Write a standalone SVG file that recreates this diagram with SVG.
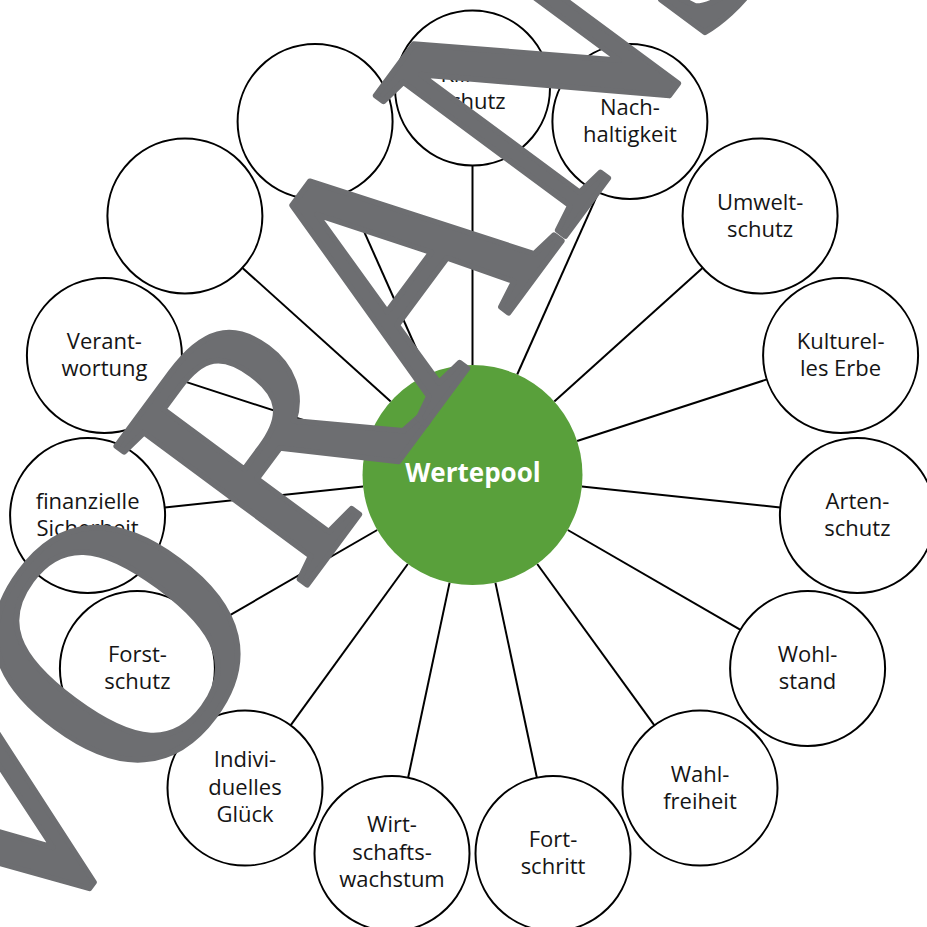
<svg xmlns="http://www.w3.org/2000/svg" width="927" height="927" viewBox="0 0 927 927">
  <style>
    .bubble circle { fill: #ffffff; stroke: #000000; stroke-width: 2; }
    .bubble text { font-family: "Open Sans", "Liberation Sans", sans-serif; font-size: 22px; fill: #151515; text-anchor: middle; }
    .connectors line { stroke: #000000; stroke-width: 2; }
    .hub circle { fill: #59a03b; }
    .hub text { font-family: "Open Sans", "Liberation Sans", sans-serif; font-size: 26px; font-weight: 700; fill: #ffffff; text-anchor: middle; }
    .stamp { font-family: "Liberation Serif", "Times New Roman", serif; font-size: 360px; fill: #6d6e71; stroke: #6d6e71; stroke-width: 6; stroke-linejoin: round; }
  </style>

  <rect width="927" height="927" fill="#ffffff"/>

  <!-- spokes from the hub to the 15 value bubbles (ring radius 387, 24 deg apart) -->
  <g id="connectors" class="connectors">
    <line x1="472.5" y1="365" x2="472.5" y2="165.5"/>
    <line x1="517.2" y1="374.5" x2="598.4" y2="192.3"/>
    <line x1="554.3" y1="401.4" x2="702.5" y2="267.9"/>
    <line x1="577.1" y1="441.0" x2="766.9" y2="379.4"/>
    <line x1="581.9" y1="486.5" x2="780.3" y2="507.4"/>
    <line x1="567.8" y1="530.0" x2="740.5" y2="629.8"/>
    <line x1="537.2" y1="564.0" x2="654.4" y2="725.4"/>
    <line x1="495.4" y1="582.6" x2="536.9" y2="777.7"/>
    <line x1="449.6" y1="582.6" x2="408.1" y2="777.7"/>
    <line x1="407.8" y1="564.0" x2="290.6" y2="725.4"/>
    <line x1="377.2" y1="530.0" x2="204.5" y2="629.8"/>
    <line x1="363.1" y1="486.5" x2="164.7" y2="507.4"/>
    <line x1="367.9" y1="441.0" x2="178.1" y2="379.4"/>
    <line x1="390.7" y1="401.4" x2="242.5" y2="267.9"/>
    <line x1="427.8" y1="374.5" x2="346.6" y2="192.3"/>
  </g>

  <!-- central hub -->
  <g id="wertepool" class="hub">
    <circle cx="472.5" cy="475" r="110"/>
    <text x="473" y="482">Wertepool</text>
  </g>

  <!-- value bubbles, clockwise from the top -->
  <g id="klimaschutz" class="bubble">
    <circle cx="472.5" cy="88" r="77.5"/>
    <text><tspan x="472.5" y="81.5">Klima-</tspan><tspan x="472.5" y="108.5">schutz</tspan></text>
  </g>
  <g id="nachhaltigkeit" class="bubble">
    <circle cx="629.9" cy="121.5" r="77.5"/>
    <text><tspan x="629.9" y="115">Nach-</tspan><tspan x="629.9" y="142">haltigkeit</tspan></text>
  </g>
  <g id="umweltschutz" class="bubble">
    <circle cx="760.1" cy="216" r="77.5"/>
    <text><tspan x="760.1" y="209.5">Umwelt-</tspan><tspan x="760.1" y="236.5">schutz</tspan></text>
  </g>
  <g id="kulturelles-erbe" class="bubble">
    <circle cx="840.6" cy="355.4" r="77.5"/>
    <text><tspan x="840.6" y="349">Kulturel-</tspan><tspan x="840.6" y="376">les Erbe</tspan></text>
  </g>
  <g id="artenschutz" class="bubble">
    <circle cx="857.4" cy="515.5" r="77.5"/>
    <text><tspan x="857.4" y="509">Arten-</tspan><tspan x="857.4" y="536">schutz</tspan></text>
  </g>
  <g id="wohlstand" class="bubble">
    <circle cx="807.6" cy="668.5" r="77.5"/>
    <text><tspan x="807.6" y="662">Wohl-</tspan><tspan x="807.6" y="689">stand</tspan></text>
  </g>
  <g id="wahlfreiheit" class="bubble">
    <circle cx="700" cy="788.1" r="77.5"/>
    <text><tspan x="700" y="781.5">Wahl-</tspan><tspan x="700" y="808.5">freiheit</tspan></text>
  </g>
  <g id="fortschritt" class="bubble">
    <circle cx="553" cy="853.5" r="77.5"/>
    <text><tspan x="553" y="847">Fort-</tspan><tspan x="553" y="874">schritt</tspan></text>
  </g>
  <g id="wirtschaftswachstum" class="bubble">
    <circle cx="392" cy="853.5" r="77.5"/>
    <text><tspan x="392" y="832">Wirt-</tspan><tspan x="392" y="859.5">schafts-</tspan><tspan x="392" y="887">wachstum</tspan></text>
  </g>
  <g id="individuelles-glueck" class="bubble">
    <circle cx="245" cy="788.1" r="77.5"/>
    <text><tspan x="245" y="767">Indivi-</tspan><tspan x="245" y="794.5">duelles</tspan><tspan x="245" y="822">Glück</tspan></text>
  </g>
  <g id="forstschutz" class="bubble">
    <circle cx="137.4" cy="668.5" r="77.5"/>
    <text><tspan x="137.4" y="662">Forst-</tspan><tspan x="137.4" y="689">schutz</tspan></text>
  </g>
  <g id="finanzielle-sicherheit" class="bubble">
    <circle cx="87.6" cy="515.5" r="77.5"/>
    <text><tspan x="87.6" y="509">finanzielle</tspan><tspan x="87.6" y="536">Sicherheit</tspan></text>
  </g>
  <g id="verantwortung" class="bubble">
    <circle cx="104.4" cy="355.4" r="77.5"/>
    <text><tspan x="104.4" y="349">Verant-</tspan><tspan x="104.4" y="376">wortung</tspan></text>
  </g>
  <g id="leer-1" class="bubble">
    <circle cx="184.9" cy="216" r="77.5"/>
  </g>
  <g id="leer-2" class="bubble">
    <circle cx="315.1" cy="121.5" r="77.5"/>
  </g>

  <!-- diagonal preview stamp across the sheet -->
  <text class="stamp" transform="translate(80.2 891.4) rotate(-53.5) scale(0.9 1)" x="-117.8 115.6 411.1 642.2 895.6 1155.6" y="0">VORANSICHT</text>
</svg>
